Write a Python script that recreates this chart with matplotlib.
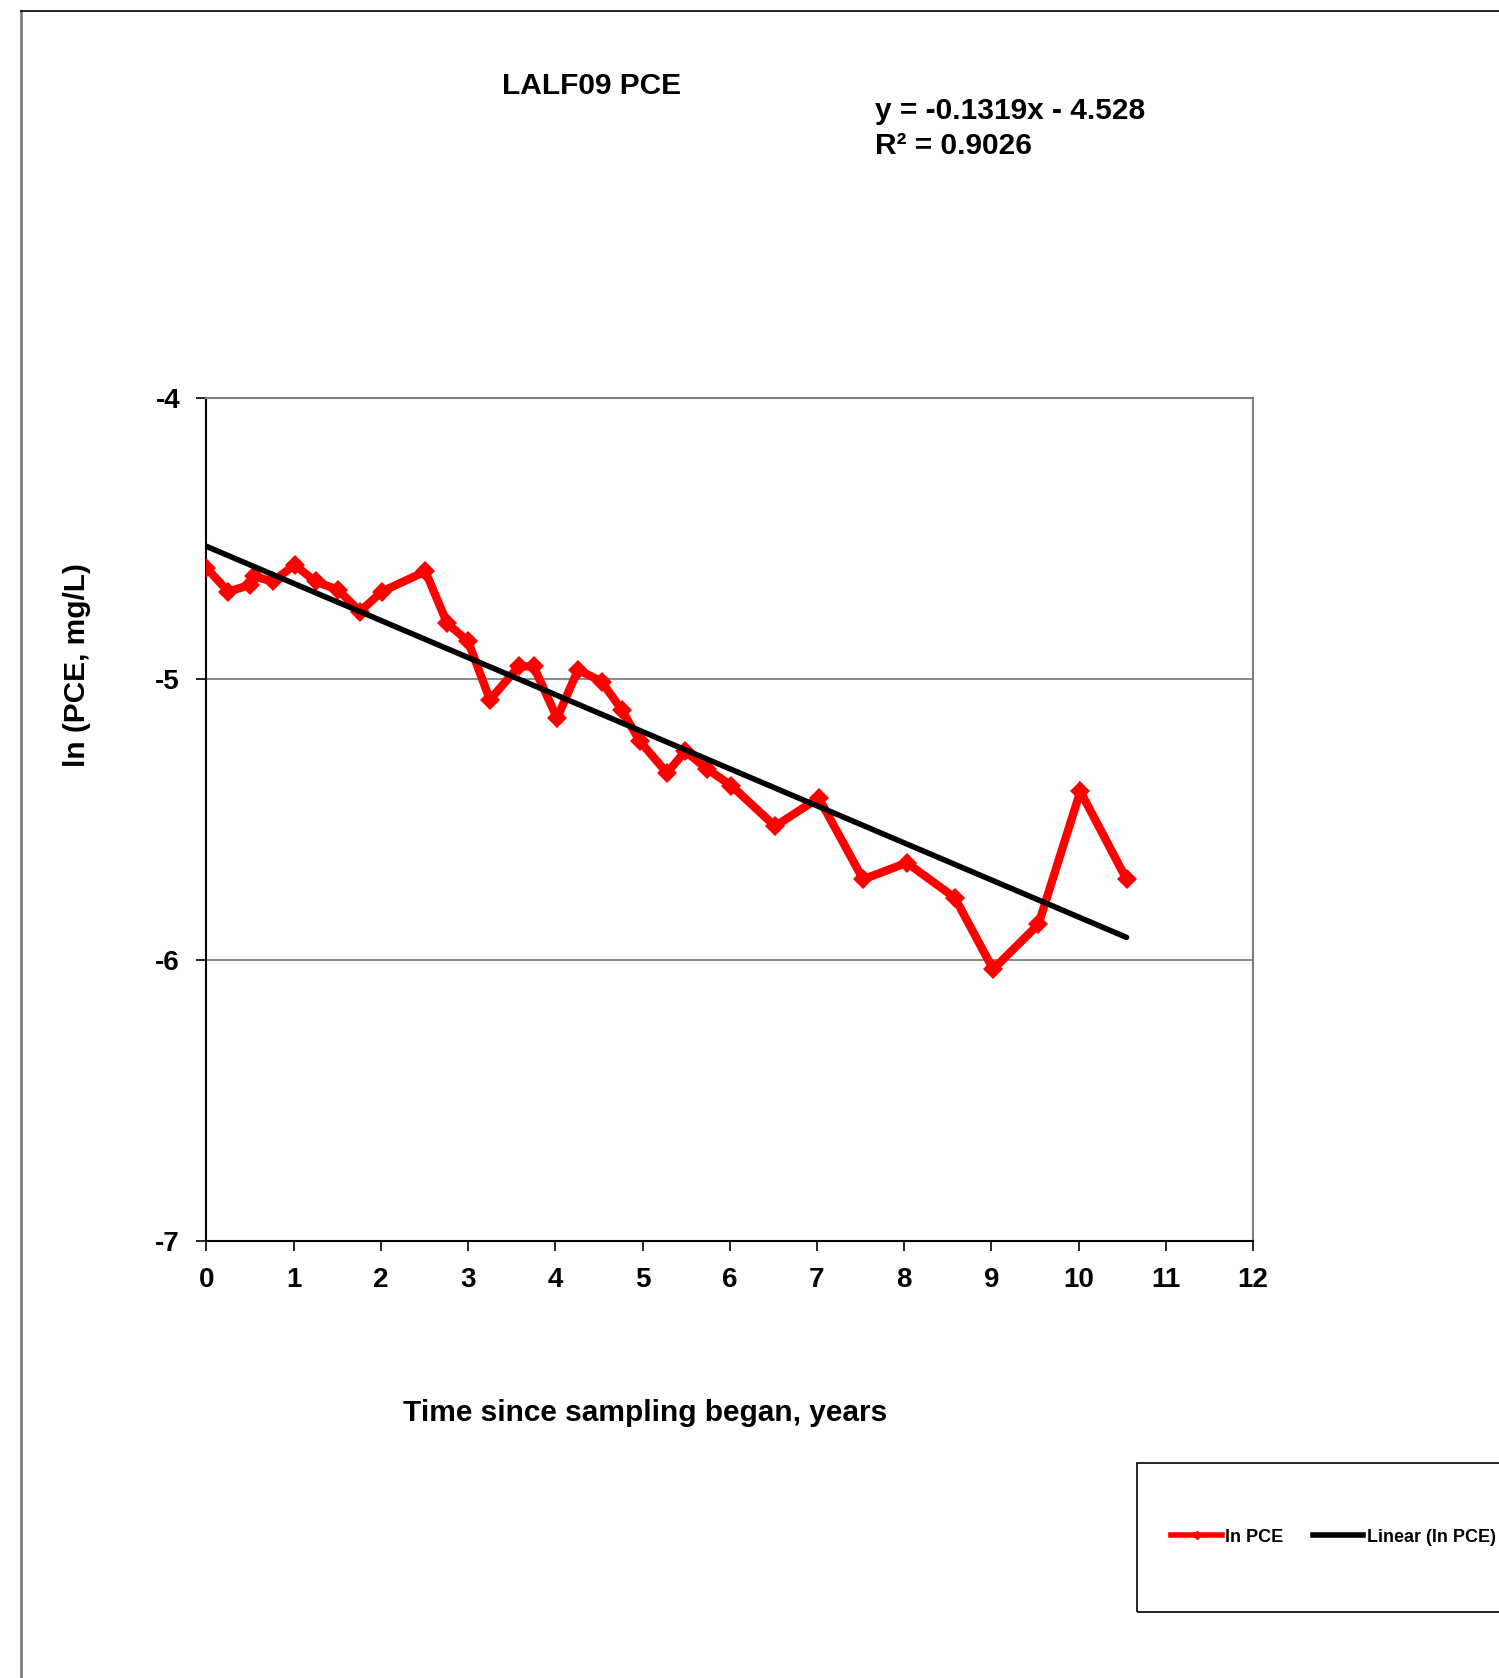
import numpy as np
import matplotlib
matplotlib.use('Agg')
import matplotlib.pyplot as plt
from matplotlib.patches import Rectangle
from matplotlib.lines import Line2D

# years since sampling began, ln(PCE)
years = [0.0, 0.25, 0.50, 0.55, 0.76, 1.01, 1.25, 1.51, 1.76, 2.01, 2.51,
         2.76, 3.00, 3.25, 3.58, 3.75, 4.02, 4.26, 4.53, 4.76, 4.97, 5.28,
         5.49, 5.74, 6.02, 6.52, 7.02, 7.53, 8.03, 8.58, 9.02, 9.54, 10.02, 10.55]
ln_pce = [-4.605, -4.689, -4.665, -4.635, -4.653, -4.594, -4.653, -4.683, -4.760,
          -4.689, -4.617, -4.802, -4.866, -5.074, -4.955, -4.955, -5.139, -4.967,
          -5.009, -5.109, -5.222, -5.334, -5.257, -5.320, -5.380, -5.524, -5.423,
          -5.713, -5.654, -5.778, -6.033, -5.873, -5.400, -5.713]

slope = -0.1319
intercept = -4.528
r2 = 0.9026

x_ticks = list(range(0, 13))
y_ticks = [-7, -6, -5, -4]

plt.rcParams['font.family'] = ['Liberation Sans', 'DejaVu Sans']
plt.rcParams['font.weight'] = 'bold'
plt.rcParams['axes.unicode_minus'] = False

W, H = 1499, 1678
fig = plt.figure(figsize=(W / 100, H / 100), dpi=100)

ax = fig.add_axes([206.5 / W, 1 - 1241 / H, 1046.5 / W, 843 / H])

# outer chart frame (runs off the page right/bottom)
fig.add_artist(Line2D([21 / W, 21 / W], [1 - 11 / H, 0], transform=fig.transFigure,
                      color='#808080', lw=2))
fig.add_artist(Line2D([21 / W, 1.0], [1 - 11 / H, 1 - 11 / H], transform=fig.transFigure,
                      color='black', lw=1.2))

ax.plot(years, ln_pce, color='#ff0000', lw=6, marker='D', markersize=10.5,
        markeredgewidth=0, solid_joinstyle='miter', zorder=3)

xfit = np.array([0, max(years)])
ax.plot(xfit, slope * xfit + intercept, color='black', lw=4, solid_capstyle='round', zorder=4)

ax.set_xlim(0, 12)
ax.set_ylim(-7, -4)
ax.set_xticks(x_ticks)
ax.set_yticks(y_ticks)
ax.tick_params(labelsize=20, direction='out', length=7, width=1.2, pad=12)
for lbl in ax.get_xticklabels() + ax.get_yticklabels():
    lbl.set_fontweight('bold')

for y in [-5, -6]:
    ax.axhline(y, color='#808080', lw=1.3, zorder=1)

ax.spines['top'].set_color('#808080')
ax.spines['right'].set_color('#808080')
ax.spines['left'].set_color('black')
ax.spines['bottom'].set_color('black')
for s in ax.spines.values():
    s.set_linewidth(1.5)

fig.text(592 / W, 1 - 86.5 / H, 'LALF09 PCE', ha='center', va='center',
         fontsize=21.5, fontweight='bold')
fig.text(875 / W, 1 - 111 / H, 'y = %.4fx - %.3f' % (slope, -intercept),
         ha='left', va='center', fontsize=21.5, fontweight='bold')
fig.text(875 / W, 1 - 146 / H, 'R² = %.4f' % r2,
         ha='left', va='center', fontsize=21.5, fontweight='bold')

fig.text(77 / W, 1 - 665 / H, 'ln (PCE, mg/L)', rotation=90, ha='center', va='center',
         fontsize=21.5, fontweight='bold')
fig.text(645 / W, 1 - 1413 / H, 'Time since sampling began, years', ha='center',
         va='center', fontsize=21.5, fontweight='bold')

# legend box
fig.add_artist(Rectangle((1137 / W, 1 - 1612 / H), 400 / W, 149 / H,
                         transform=fig.transFigure, fill=False, ec='black', lw=1.2))
handles = [Line2D([], [], color='#ff0000', lw=4, marker='D', markersize=4),
           Line2D([], [], color='black', lw=4)]
fig.legend(handles, ['ln PCE', 'Linear (ln PCE)'], loc='center left',
           bbox_to_anchor=(1164 / W, 1 - 1537 / H), ncol=2, frameon=False,
           prop={'size': 13, 'weight': 'bold'}, handlelength=2.8, handletextpad=0.2,
           columnspacing=1.6, borderaxespad=0)

fig.savefig('out.png', dpi=100)
